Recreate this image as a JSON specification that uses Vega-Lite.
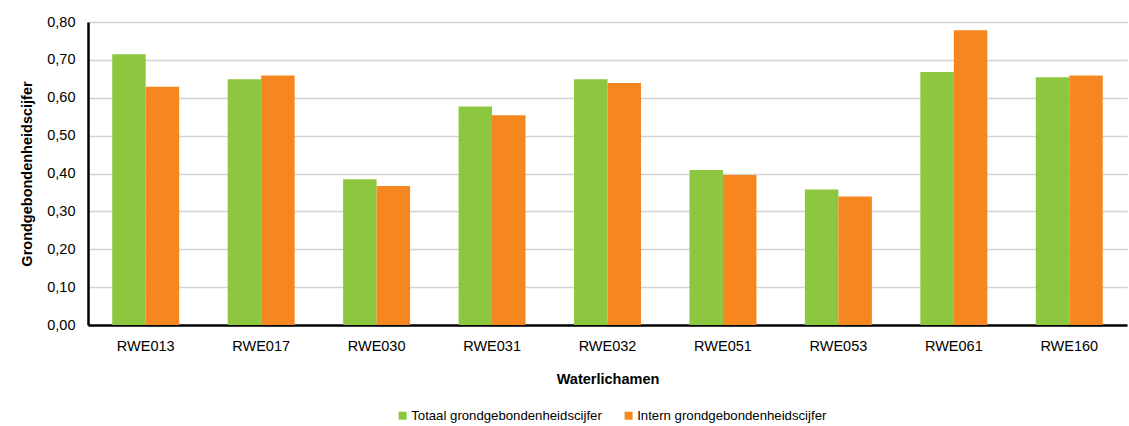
{
  "$schema": "https://vega.github.io/schema/vega-lite/v6.json",
  "autosize": "none",
  "width": 1039,
  "height": 303,
  "padding": {"left": 88, "top": 22, "right": 2, "bottom": 101},
  "background": "white",
  "config": {
    "font": "Liberation Sans",
    "view": {"stroke": null},
    "axis": {"labelFont": "Liberation Sans", "titleFont": "Liberation Sans"}
  },
  "data": {
    "values": [
      {"w": "RWE013", "s": "Totaal grondgebondenheidscijfer", "v": 0.715},
      {"w": "RWE013", "s": "Intern grondgebondenheidscijfer", "v": 0.629},
      {"w": "RWE017", "s": "Totaal grondgebondenheidscijfer", "v": 0.649},
      {"w": "RWE017", "s": "Intern grondgebondenheidscijfer", "v": 0.659},
      {"w": "RWE030", "s": "Totaal grondgebondenheidscijfer", "v": 0.385},
      {"w": "RWE030", "s": "Intern grondgebondenheidscijfer", "v": 0.367},
      {"w": "RWE031", "s": "Totaal grondgebondenheidscijfer", "v": 0.577},
      {"w": "RWE031", "s": "Intern grondgebondenheidscijfer", "v": 0.554},
      {"w": "RWE032", "s": "Totaal grondgebondenheidscijfer", "v": 0.649},
      {"w": "RWE032", "s": "Intern grondgebondenheidscijfer", "v": 0.639},
      {"w": "RWE051", "s": "Totaal grondgebondenheidscijfer", "v": 0.409},
      {"w": "RWE051", "s": "Intern grondgebondenheidscijfer", "v": 0.396},
      {"w": "RWE053", "s": "Totaal grondgebondenheidscijfer", "v": 0.358},
      {"w": "RWE053", "s": "Intern grondgebondenheidscijfer", "v": 0.339},
      {"w": "RWE061", "s": "Totaal grondgebondenheidscijfer", "v": 0.668},
      {"w": "RWE061", "s": "Intern grondgebondenheidscijfer", "v": 0.778},
      {"w": "RWE160", "s": "Totaal grondgebondenheidscijfer", "v": 0.654},
      {"w": "RWE160", "s": "Intern grondgebondenheidscijfer", "v": 0.659}
    ]
  },
  "mark": {"type": "bar"},
  "encoding": {
    "x": {
      "field": "w", "type": "nominal", "sort": null,
      "scale": {"paddingInner": 0.42, "paddingOuter": 0.21},
      "axis": {
        "title": "Waterlichamen", "titleFontSize": 14.5, "titleFontWeight": "bold", "titleColor": "black", "titlePadding": 20,
        "labelAngle": 0, "labelFontSize": 14.5, "labelColor": "black", "labelPadding": 14,
        "ticks": false, "domainColor": "black", "domainWidth": 2.5, "grid": false
      }
    },
    "xOffset": {"field": "s", "type": "nominal", "sort": ["Totaal grondgebondenheidscijfer", "Intern grondgebondenheidscijfer"], "scale": {"paddingInner": 0, "paddingOuter": 0}},
    "y": {
      "field": "v", "type": "quantitative",
      "scale": {"domain": [0, 0.8], "nice": false},
      "axis": {
        "title": "Grondgebondenheidscijfer", "titleFontSize": 14.5, "titleFontWeight": "bold", "titleColor": "black", "titlePadding": 12,
        "values": [0, 0.1, 0.2, 0.3, 0.4, 0.5, 0.6, 0.7, 0.8],
        "labelExpr": "replace(format(datum.value, '.2f'), '.', ',')",
        "labelFontSize": 14.5, "labelColor": "black", "labelPadding": 13,
        "ticks": false, "domainColor": "black", "domainWidth": 2.5,
        "gridColor": "#d3d3d3", "gridWidth": 1.5
      }
    },
    "color": {
      "field": "s", "type": "nominal",
      "sort": ["Totaal grondgebondenheidscijfer", "Intern grondgebondenheidscijfer"],
      "scale": {"domain": ["Totaal grondgebondenheidscijfer", "Intern grondgebondenheidscijfer"], "range": ["#8DC63F", "#F58620"]},
      "legend": {
        "title": null, "orient": "none", "direction": "horizontal",
        "legendX": 308, "legendY": 387,
        "symbolType": "square", "symbolSize": 64, "symbolStrokeWidth": 0, "symbolOffset": 0,
        "labelFontSize": 13.2, "labelColor": "black", "labelOffset": 2, "labelLimit": 400,
        "columnPadding": 20
      }
    }
  }
}
